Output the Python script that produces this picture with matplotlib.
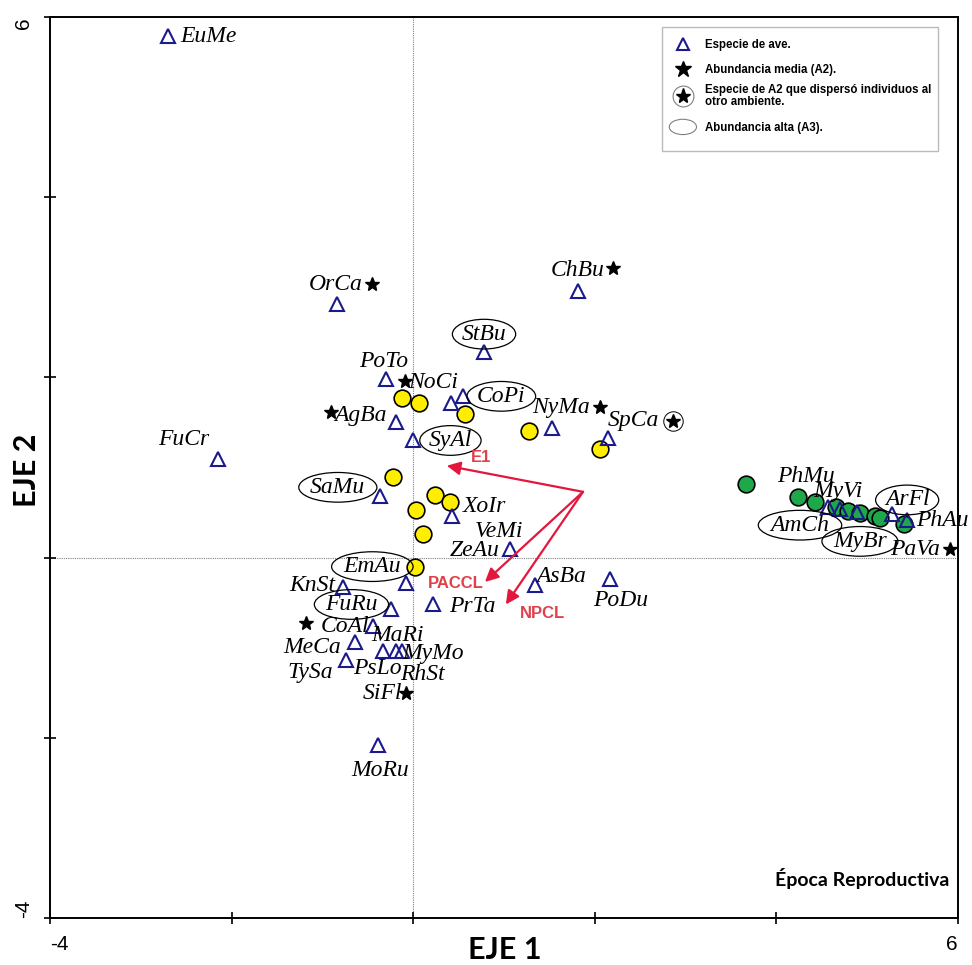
import numpy as np
import matplotlib.pyplot as plt
from matplotlib.patches import Rectangle, Ellipse

# especies de ave (triangulos)
tri_x = [-2.70, -2.15, -0.84, 1.81, 0.78, -0.30, -0.19, 0.00, 0.42, 0.55, 1.53, 2.14,
         -0.37, 0.43, 1.07, 1.34, 2.17, -0.77, -0.08, 0.22, -0.25, -0.44, -0.64,
         -0.33, -0.19, -0.12, -0.74, -0.39, 4.57, 4.70, 4.89, 5.27, 5.44]
tri_y = [5.79, 1.09, 2.81, 2.96, 2.28, 1.98, 1.51, 1.31, 1.72, 1.79, 1.44, 1.33,
         0.68, 0.46, 0.09, -0.30, -0.24, -0.33, -0.28, -0.52, -0.57, -0.76, -0.94,
         -1.04, -1.04, -1.04, -1.14, -2.08, 0.56, 0.54, 0.51, 0.48, 0.42]

# sitios (circulos)
yel_x = [-0.12, 0.06, 0.57, 1.27, 2.06, -0.22, 0.24, 0.41, 0.03, 0.11, 0.02]
yel_y = [1.77, 1.72, 1.59, 1.41, 1.21, 0.90, 0.69, 0.62, 0.53, 0.26, -0.10]
grn_x = [3.66, 4.24, 4.42, 4.66, 4.79, 4.92, 5.09, 5.14, 5.40]
grn_y = [0.82, 0.67, 0.62, 0.56, 0.52, 0.50, 0.46, 0.44, 0.37]

# abundancia media (A2)
star_x = [-0.45, 2.20, -0.09, -0.91, 2.06, -1.18, -0.08, 5.91]
star_y = [3.04, 3.21, 1.96, 1.62, 1.67, -0.73, -1.50, 0.10]
# especie de A2 que dispersó individuos
cstar_x = [2.86]
cstar_y = [1.52]

# etiquetas de especies
names = ['EuMe', 'FuCr', 'OrCa', 'ChBu', 'StBu', 'PoTo', 'NoCi', 'AgBa', 'CoPi',
         'NyMa', 'SpCa', 'SyAl', 'SaMu', 'XoIr', 'VeMi', 'ZeAu', 'EmAu', 'KnSt',
         'AsBa', 'PoDu', 'FuRu', 'PrTa', 'CoAl', 'MaRi', 'MeCa', 'MyMo', 'TySa',
         'PsLo', 'RhSt', 'SiFl', 'MoRu', 'PhMu', 'MyVi', 'ArFl', 'AmCh', 'MyBr',
         'PhAu', 'PaVa']
lab_x = [-2.57, -2.53, -0.85, 1.81, 0.78, -0.33, 0.22, -0.58, 0.97,
         1.63, 2.43, 0.41, -0.83, 0.79, 0.94, 0.68, -0.45, -1.11,
         1.63, 2.28, -0.68, 0.65, -0.75, -0.17, -1.11, 0.22, -1.13,
         -0.39, 0.10, -0.34, -0.36, 4.33, 4.68, 5.44, 4.26, 4.92,
         5.83, 5.53]
lab_y = [5.78, 1.31, 3.03, 3.19, 2.48, 2.18, 1.94, 1.58, 1.79,
         1.67, 1.52, 1.30, 0.78, 0.57, 0.29, 0.08, -0.10, -0.31,
         -0.21, -0.48, -0.52, -0.54, -0.77, -0.87, -1.00, -1.06, -1.28,
         -1.23, -1.30, -1.51, -2.36, 0.90, 0.73, 0.64, 0.36, 0.18,
         0.41, 0.09]
# abundancia alta (A3)
high = ['StBu', 'CoPi', 'SyAl', 'SaMu', 'EmAu', 'FuRu', 'ArFl', 'AmCh', 'MyBr']

# vectores ambientales
vec_names = ['E1', 'PACCL', 'NPCL']
vec_origin = (1.87, 0.73)
vec_x = [0.37, 0.79, 1.02]
vec_y = [1.02, -0.27, -0.52]
vec_lab_x = [0.75, 0.47, 1.42]
vec_lab_y = [1.11, -0.29, -0.62]

serif = 'Liberation Serif'
sans = 'Liberation Sans'
red = '#e3173e'

fig = plt.figure(figsize=(9.72, 9.65), dpi=100)
ax = fig.add_axes([50/972, 47/965, 908/972, 901/965])
ax.set_xlim(-4, 6)
ax.set_ylim(-4, 6)

ax.axhline(0, color='gray', lw=0.8, ls=(0, (1, 1)), zorder=1)
ax.axvline(0, color='gray', lw=0.8, ls=(0, (1, 1)), zorder=1)

ax.plot(yel_x, yel_y, 'o', ms=12, mfc='#ffee00', mec='black', mew=1.2, zorder=3)
ax.plot(grn_x, grn_y, 'o', ms=12, mfc='#1fa84a', mec='black', mew=1.2, zorder=3)
ax.plot(tri_x, tri_y, '^', ms=10, mfc='none', mec='#1a1a8c', mew=1.5, zorder=4)
ax.plot(star_x, star_y, '*', ms=10, color='black', zorder=4)
ax.plot(cstar_x, cstar_y, '*', ms=10, color='black', zorder=4)
ax.plot(cstar_x, cstar_y, 'o', ms=14, mfc='none', mec='black', mew=0.7, zorder=4)

for n, x, y in zip(names, lab_x, lab_y):
    ha = 'left' if n == 'EuMe' else 'center'
    bb = None
    if n in high:
        bb = dict(boxstyle='ellipse,pad=0.0', fc='none', ec='black', lw=0.9)
    ax.text(x, y, n, family=serif, style='italic', fontsize=17, ha=ha,
            va='center', bbox=bb, zorder=5, clip_on=False)

for tx, ty, n, lx, ly in zip(vec_x, vec_y, vec_names, vec_lab_x, vec_lab_y):
    ax.annotate('', xy=(tx, ty), xytext=vec_origin,
                arrowprops=dict(arrowstyle='-|>', color=red, lw=1.6,
                                mutation_scale=20, shrinkA=0, shrinkB=0), zorder=6)
    ax.text(lx, ly, n, color='#e0404a', fontsize=12, fontweight='bold',
            family=sans, ha='center', va='center', zorder=6)

# leyenda
ax.add_patch(Rectangle((2.74, 4.51), 3.04, 1.38, fc='white', ec='#bbbbbb',
                       lw=1, zorder=7))
lx = 2.97
ax.plot(lx, 5.70, '^', ms=8, mfc='none', mec='#1a1a8c', mew=1.5, zorder=8)
ax.plot(lx, 5.42, '*', ms=12, color='black', zorder=8)
ax.plot(lx, 5.12, '*', ms=11, color='black', zorder=8)
ax.plot(lx, 5.12, 'o', ms=15, mfc='none', mec='gray', mew=0.8, zorder=8)
ax.add_patch(Ellipse((lx, 4.78), 0.30, 0.17, fc='none', ec='gray', lw=0.8, zorder=8))
tx = 3.21
leg_kw = dict(family=sans, fontsize=8.3, fontweight='bold', va='center', zorder=8)
ax.text(tx, 5.69, 'Especie de ave.', **leg_kw)
ax.text(tx, 5.41, 'Abundancia media (A2).', **leg_kw)
ax.text(tx, 5.12, 'Especie de A2 que dispersó individuos al\notro ambiente.',
        linespacing=1.0, **leg_kw)
ax.text(tx, 4.77, 'Abundancia alta (A3).', **leg_kw)

ax.text(5.9, -3.56, 'Época Reproductiva', family='Lato', fontsize=14,
        fontweight='bold', ha='right', va='center')

ax.set_xticks([-4, -2, 0, 2, 4, 6])
ax.set_xticklabels(['-4', '', '', '', '', '6'], fontsize=15, family=sans)
ax.set_yticks([-4, -2, 0, 2, 4, 6])
ax.set_yticklabels(['-4', '', '', '', '', '6'], fontsize=15, family=sans,
                   rotation=90, va='center')
ax.tick_params(direction='inout', length=9, width=1.2, pad=8)
for lab in ax.get_xticklabels():
    if lab.get_text() == '-4':
        lab.set_ha('left')
    elif lab.get_text() == '6':
        lab.set_ha('right')
for lab in ax.get_yticklabels():
    if lab.get_text() == '-4':
        lab.set_va('bottom')
    elif lab.get_text() == '6':
        lab.set_va('top')
for s in ax.spines.values():
    s.set_linewidth(1.4)

fig.text(505/972, 1 - 950/965, 'EJE 1', family='Lato', fontsize=22,
         fontweight='bold', ha='center', va='center')
fig.text(27/972, 1 - 470/965, 'EJE 2', family='Lato', fontsize=22,
         fontweight='bold', ha='center', va='center', rotation=90)

fig.savefig('out.png', dpi=100)
